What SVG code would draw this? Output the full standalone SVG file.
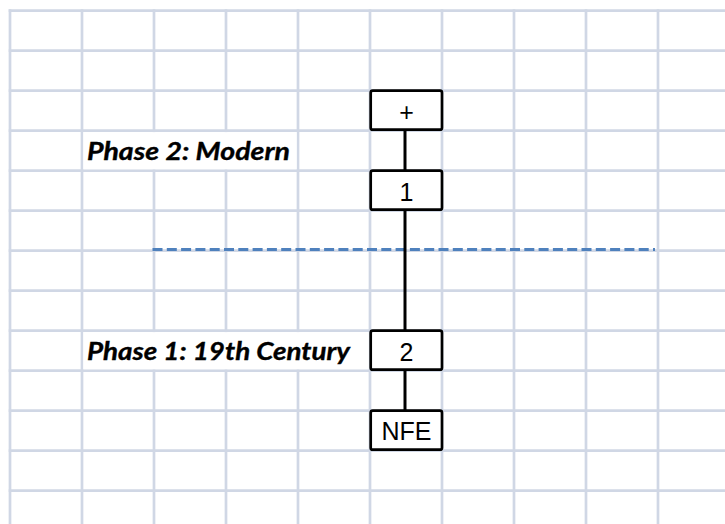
<svg xmlns="http://www.w3.org/2000/svg" width="725" height="524" viewBox="0 0 725 524">
  <style>
    .grid line { stroke: #D0D7E5; stroke-width: 2.7; }
    .cell { fill: #FFFFFF; stroke: none; }
    .box { fill: #FFFFFF; stroke: #000000; stroke-width: 2.7; }
    .lbl { font-family: "Liberation Sans", Arial, sans-serif; font-size: 25px; fill: #000000; text-anchor: middle; }
    .phase { font-family: Lato, "Open Sans", sans-serif; font-size: 24.5px; font-weight: bold; font-style: italic; fill: #000000; stroke: #000000; stroke-width: 0.35; }
    .sep { stroke: #4F81BD; stroke-width: 3; stroke-dasharray: 10 4.3; fill: none; }
    .link { stroke: #000000; stroke-width: 3; fill: none; }
  </style>

  <rect width="725" height="524" fill="#FFFFFF"/>

  <!-- worksheet grid -->
  <g class="grid">
    <line x1="10" y1="9.3" x2="10" y2="524"/>
    <line x1="82" y1="9.3" x2="82" y2="524"/>
    <line x1="154" y1="9.3" x2="154" y2="524"/>
    <line x1="226" y1="9.3" x2="226" y2="524"/>
    <line x1="298" y1="9.3" x2="298" y2="524"/>
    <line x1="370" y1="9.3" x2="370" y2="524"/>
    <line x1="442" y1="9.3" x2="442" y2="524"/>
    <line x1="514" y1="9.3" x2="514" y2="524"/>
    <line x1="586" y1="9.3" x2="586" y2="524"/>
    <line x1="658" y1="9.3" x2="658" y2="524"/>
    <line x1="8.7" y1="10.7" x2="725" y2="10.7"/>
    <line x1="8.7" y1="50.7" x2="725" y2="50.7"/>
    <line x1="8.7" y1="90.7" x2="725" y2="90.7"/>
    <line x1="8.7" y1="130.7" x2="725" y2="130.7"/>
    <line x1="8.7" y1="170.7" x2="725" y2="170.7"/>
    <line x1="8.7" y1="210.7" x2="725" y2="210.7"/>
    <line x1="8.7" y1="250.7" x2="725" y2="250.7"/>
    <line x1="8.7" y1="290.7" x2="725" y2="290.7"/>
    <line x1="8.7" y1="330.7" x2="725" y2="330.7"/>
    <line x1="8.7" y1="370.7" x2="725" y2="370.7"/>
    <line x1="8.7" y1="410.7" x2="725" y2="410.7"/>
    <line x1="8.7" y1="450.7" x2="725" y2="450.7"/>
    <line x1="8.7" y1="490.7" x2="725" y2="490.7"/>
  </g>

  <!-- label cells span several columns, hiding inner grid lines -->
  <rect class="cell" x="83.4" y="132.1" width="213.2" height="37.2"/>
  <rect class="cell" x="83.4" y="332.1" width="285.2" height="37.2"/>

  <!-- phase labels -->
  <g id="label-phase2">
    <text class="phase" x="87" y="160" textLength="203" lengthAdjust="spacingAndGlyphs">Phase 2: Modern</text>
  </g>
  <g id="label-phase1">
    <text class="phase" x="87" y="360" textLength="263" lengthAdjust="spacingAndGlyphs">Phase 1: 19th Century</text>
  </g>

  <!-- phase boundary -->
  <line class="sep" x1="152.5" y1="249.5" x2="655" y2="249.5"/>

  <!-- connectors -->
  <g id="connectors">
    <line class="link" x1="405" y1="130" x2="405" y2="171"/>
    <line class="link" x1="405" y1="210" x2="405" y2="331"/>
    <line class="link" x1="405" y1="370" x2="405" y2="411"/>
  </g>

  <!-- nodes -->
  <g id="node-plus">
    <rect class="box" x="370.7" y="90.7" width="71.3" height="39" rx="2"/>
    <text class="lbl" x="406.5" y="120.5">+</text>
  </g>
  <g id="node-1">
    <rect class="box" x="370.7" y="170.7" width="71.3" height="39" rx="2"/>
    <text class="lbl" x="406.5" y="200.5">1</text>
  </g>
  <g id="node-2">
    <rect class="box" x="370.7" y="330.7" width="71.3" height="39" rx="2"/>
    <text class="lbl" x="406.5" y="360.8">2</text>
  </g>
  <g id="node-nfe">
    <rect class="box" x="370.7" y="410.7" width="71.3" height="39" rx="2"/>
    <text class="lbl" x="406.5" y="439.5">NFE</text>
  </g>
</svg>
